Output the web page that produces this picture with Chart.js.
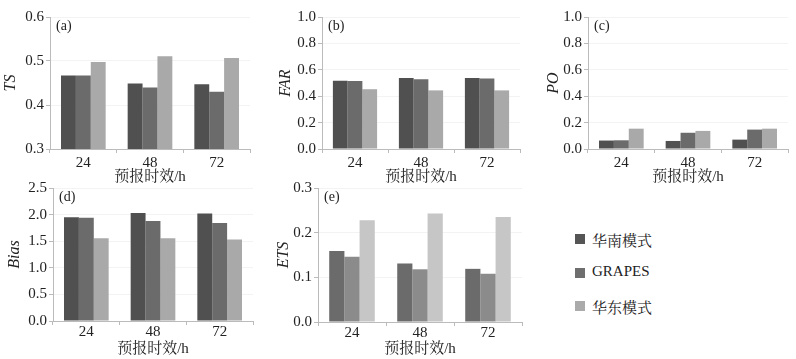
<!DOCTYPE html>
<html lang="zh-CN">
<head>
<meta charset="utf-8">
<script src="https://cdn.jsdelivr.net/npm/chart.js@4/dist/chart.umd.min.js"></script>
<style>.t{font-family:'Liberation Serif','Noto Serif CJK SC',serif;font-size:15px;color:#222}</style>
</head>
<body style="margin:0">
<div id="wrap" style="position:relative;width:796px;height:359px"></div>
<script>
// 预报时效 (h)
const hours = ['24', '48', '72'];
const modelNames = ['华南模式', 'GRAPES', '华东模式'];

// (a) TS
const tsHuanan = [0.467, 0.449, 0.447];
const tsGrapes = [0.467, 0.440, 0.430];
const tsHuadong = [0.498, 0.511, 0.507];
// (b) FAR
const farHuanan = [0.517, 0.537, 0.537];
const farGrapes = [0.515, 0.529, 0.534];
const farHuadong = [0.453, 0.444, 0.444];
// (c) PO
const poHuanan = [0.064, 0.061, 0.071];
const poGrapes = [0.066, 0.123, 0.147];
const poHuadong = [0.154, 0.137, 0.154];
// (d) Bias
const biasHuanan = [1.949, 2.028, 2.022];
const biasGrapes = [1.942, 1.881, 1.844];
const biasHuadong = [1.556, 1.556, 1.532];
// (e) ETS
const etsHuanan = [0.159, 0.131, 0.119];
const etsGrapes = [0.146, 0.118, 0.108];
const etsHuadong = [0.228, 0.243, 0.235];

const colorsDark = ['#505050', '#6b6b6b', '#a9a9a9'];
const colorsLight = ['#6b6b6b', '#8b8b8b', '#c6c6c6'];

const fontFam = "'Liberation Serif', 'Noto Serif CJK SC', serif";
const wrap = document.getElementById('wrap');

const panelTag = {
  id: 'panelTag',
  afterDraw(chart, args, opts) {
    const {ctx, chartArea} = chart;
    ctx.save();
    ctx.font = '14px ' + fontFam;
    ctx.fillStyle = '#222';
    ctx.textBaseline = 'middle';
    ctx.fillText(opts.text, chartArea.left + 6, chartArea.top + 9);
    ctx.restore();
  }
};

function panel(p) {
  const left = p.titleX - 9, top = p.area.t - 8;
  const width = p.area.r + 6 - left;
  const height = p.area.b + p.xh - top;
  const cv = document.createElement('canvas');
  cv.width = width; cv.height = height;
  cv.style.position = 'absolute';
  cv.style.left = left + 'px'; cv.style.top = top + 'px';
  wrap.appendChild(cv);
  const yw = p.area.l - left;
  new Chart(cv, {
    type: 'bar',
    data: {
      labels: hours,
      datasets: p.series.map((s, i) => ({
        label: modelNames[i], data: s, backgroundColor: p.colors[i],
        borderWidth: 0, categoryPercentage: 0.67, barPercentage: 1.0
      }))
    },
    options: {
      responsive: false, animation: false,
      layout: {padding: {left: 0, right: 6, top: 8, bottom: 0}},
      plugins: {legend: {display: false}, tooltip: {enabled: false}, panelTag: {text: p.tag}},
      scales: {
        x: {
          grid: {offset: true, drawOnChartArea: false, tickLength: 4, tickColor: '#bbb'},
          border: {color: '#bbb'},
          ticks: {font: {family: fontFam, size: 15}, color: '#222', padding: p.tickPad},
          title: {display: true, text: '预报时效/h', font: {family: fontFam, size: 15}, color: '#222', padding: 0},
          afterFit: s => { s.height = p.xh; }
        },
        y: {
          min: p.min, max: p.max,
          ticks: {stepSize: p.step, font: {family: fontFam, size: 15}, color: '#222', padding: 2,
                  callback: v => v.toFixed(1)},
          grid: {color: '#f3f3f3', tickColor: '#bbb', tickLength: 4},
          border: {color: '#bbb'},
          title: {display: true, text: p.ytitle, font: {family: fontFam, size: 16, style: 'italic'}, color: '#222', padding: 0},
          afterFit: s => { s.width = yw; }
        }
      }
    },
    plugins: [panelTag]
  });
}

panel({tag: '(a)', ytitle: 'TS', titleX: 10, area: {l: 50, t: 14, r: 250, b: 149}, xh: 37, tickPad: 1,
       min: 0.3, max: 0.6, step: 0.1, series: [tsHuanan, tsGrapes, tsHuadong], colors: colorsDark});
panel({tag: '(b)', ytitle: 'FAR', titleX: 285, area: {l: 322, t: 14, r: 520, b: 149}, xh: 37, tickPad: 1,
       min: 0, max: 1.0, step: 0.2, series: [farHuanan, farGrapes, farHuadong], colors: colorsDark});
panel({tag: '(c)', ytitle: 'PO', titleX: 553, area: {l: 588, t: 14, r: 788, b: 149}, xh: 37, tickPad: 1,
       min: 0, max: 1.0, step: 0.2, series: [poHuanan, poGrapes, poHuadong], colors: colorsDark});
panel({tag: '(d)', ytitle: 'Bias', titleX: 14, area: {l: 53, t: 185, r: 253, b: 321}, xh: 37, tickPad: -2,
       min: 0, max: 2.5, step: 0.5, series: [biasHuanan, biasGrapes, biasHuadong], colors: colorsDark});
panel({tag: '(e)', ytitle: 'ETS', titleX: 283, area: {l: 318, t: 185, r: 522, b: 322}, xh: 36, tickPad: -2,
       min: 0, max: 0.3, step: 0.1, series: [etsHuanan, etsGrapes, etsHuadong], colors: colorsLight});

// legend
const legendColors = ['#555555', '#6e6e6e', '#aaaaaa'];
const legendY = [229, 263, 296];
modelNames.forEach((name, i) => {
  const sw = document.createElement('div');
  sw.style.cssText = 'position:absolute;left:575px;width:10px;height:10px;top:' + (legendY[i] + 5) + 'px;background:' + legendColors[i];
  wrap.appendChild(sw);
  const d = document.createElement('div');
  d.className = 't';
  d.style.cssText = 'position:absolute;left:592px;top:' + legendY[i] + 'px';
  d.textContent = name;
  wrap.appendChild(d);
});
</script>
</body>
</html>
